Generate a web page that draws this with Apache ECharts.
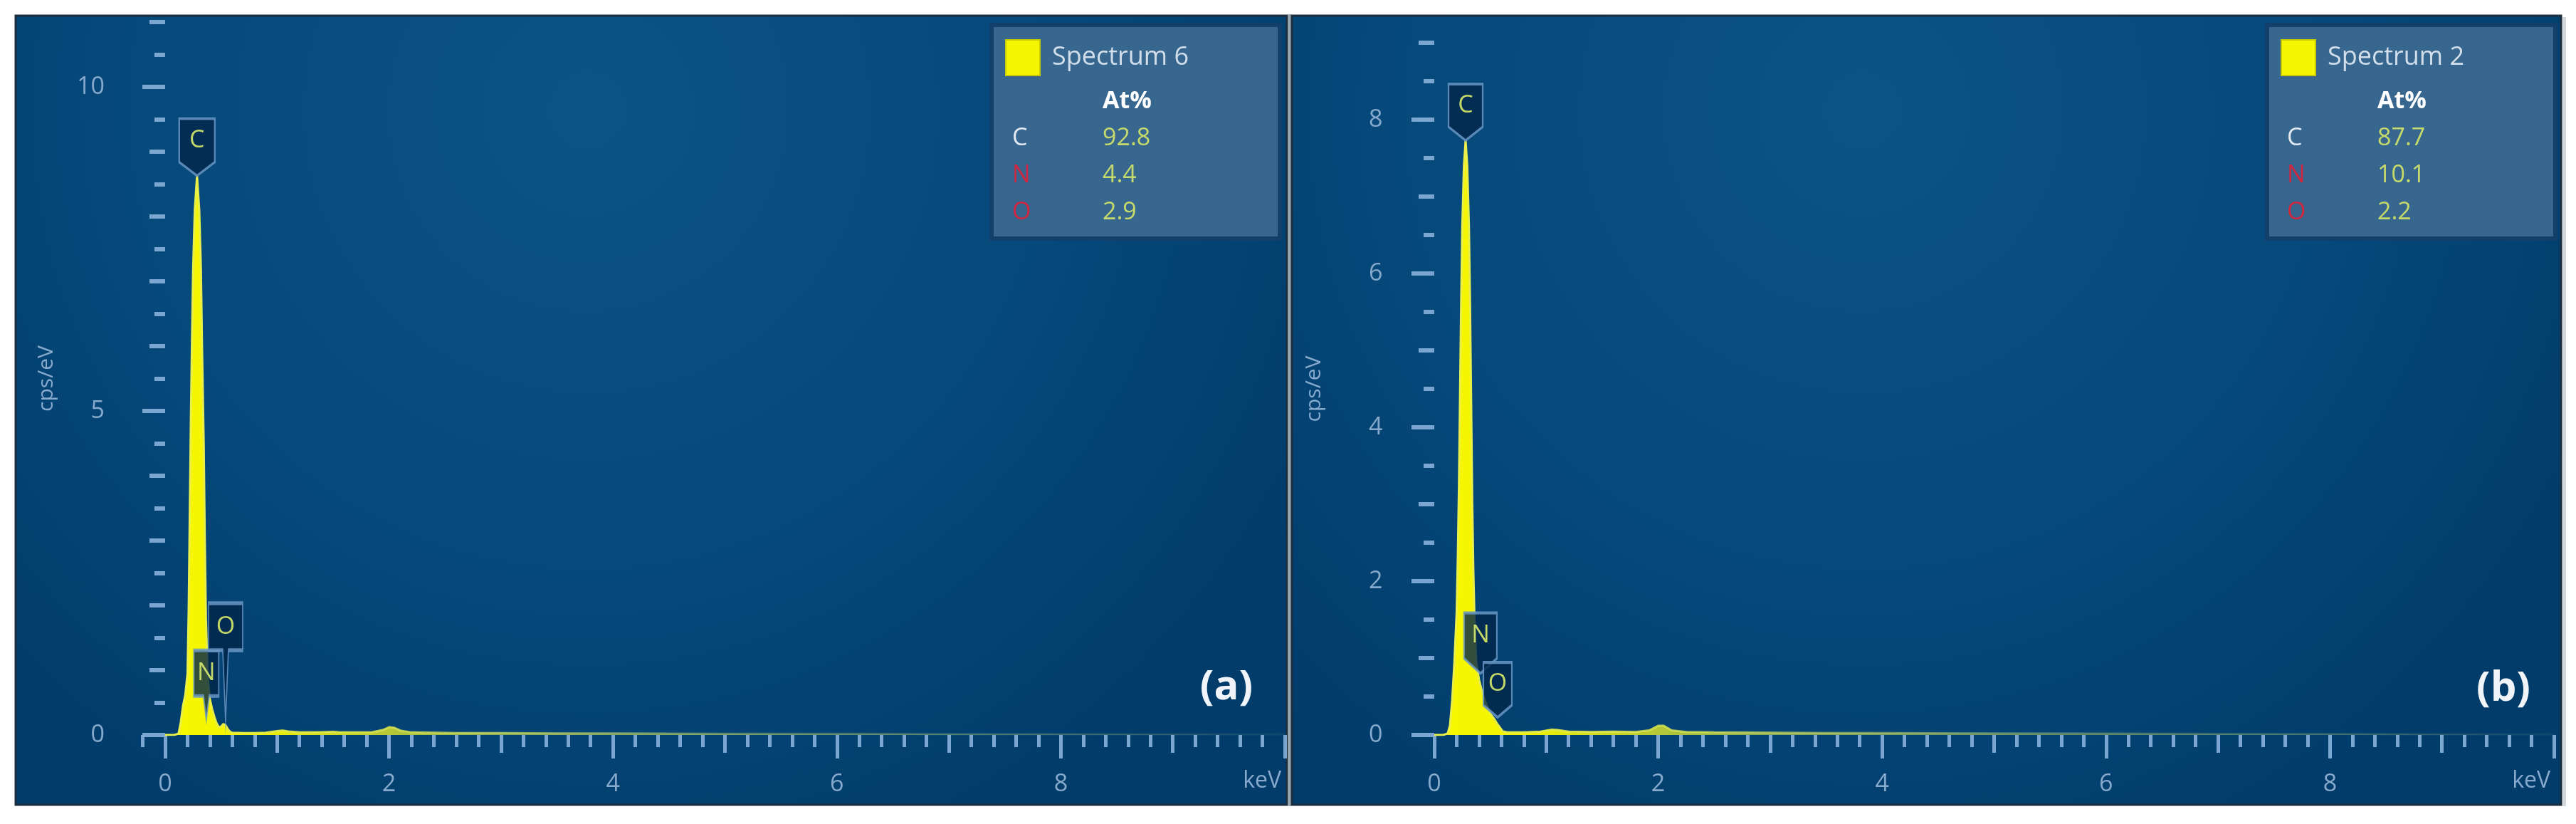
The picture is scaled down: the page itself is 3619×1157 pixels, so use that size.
<!DOCTYPE html>
<html><head><meta charset="utf-8">
<script src="https://cdn.jsdelivr.net/npm/echarts@6/dist/echarts.min.js"></script>
<style>html,body{margin:0;padding:0;background:#fff}#c{width:3619px;height:1157px}</style>
</head><body><div id="c"></div>
<script>
// ---------- data ----------
const seriesNameA = 'Spectrum 6';
const seriesNameB = 'Spectrum 2';
const spectrumA = [
  [0,0],[0.08,0],[0.12,0.02],[0.14,0.2],[0.16,0.45],[0.18,0.62],[0.20,0.95],[0.21,1.9],[0.22,3.4],[0.23,4.9],
  [0.24,6.1],[0.25,7.2],[0.265,8.1],[0.285,8.63],[0.305,8.1],[0.32,7.2],[0.33,6.0],[0.345,4.5],[0.355,3.0],
  [0.365,1.8],[0.38,0.9],[0.40,0.55],[0.42,0.4],[0.44,0.28],[0.46,0.18],[0.48,0.12],[0.50,0.13],[0.52,0.17],
  [0.54,0.15],[0.56,0.09],[0.58,0.05],[0.60,0.035],[0.7,0.03],[0.8,0.03],[0.9,0.035],[1.0,0.06],[1.05,0.07],
  [1.1,0.055],[1.2,0.04],[1.3,0.04],[1.4,0.045],[1.5,0.05],[1.55,0.045],[1.7,0.04],[1.85,0.045],[1.95,0.08],
  [2.0,0.12],[2.05,0.11],[2.1,0.07],[2.2,0.04],[2.4,0.035],[2.6,0.03],[3.0,0.03],[3.5,0.025],[4.0,0.025],
  [5.0,0.02],[6.0,0.02],[7.0,0.015],[8.0,0.015],[9.0,0.01],[10.0,0.01]
];
const spectrumB = [
  [0,0],[0.08,0],[0.12,0.02],[0.14,0.12],[0.16,0.45],[0.18,0.95],[0.20,1.6],[0.21,2.3],[0.22,3.2],[0.23,4.4],
  [0.24,5.6],[0.25,6.6],[0.265,7.4],[0.28,7.73],[0.295,7.4],[0.31,6.6],[0.32,5.6],[0.33,4.3],[0.34,3.0],
  [0.35,2.1],[0.36,1.5],[0.375,0.95],[0.40,0.72],[0.42,0.6],[0.44,0.5],[0.46,0.42],[0.48,0.35],[0.50,0.28],
  [0.52,0.24],[0.54,0.2],[0.56,0.15],[0.585,0.1],[0.61,0.05],[0.65,0.035],[0.8,0.035],[0.95,0.045],[1.05,0.07],
  [1.1,0.065],[1.2,0.045],[1.4,0.04],[1.6,0.045],[1.8,0.04],[1.92,0.06],[2.0,0.12],[2.05,0.12],[2.12,0.06],
  [2.25,0.04],[2.5,0.035],[3.0,0.03],[3.5,0.025],[4.0,0.025],[5.0,0.02],[6.0,0.02],[7.0,0.015],[8.0,0.015],
  [9.0,0.01],[10.0,0.01]
];
const elements = ['C', 'N', 'O'];
const atPercentA = [92.8, 4.4, 2.9];
const atPercentB = [87.7, 10.1, 2.2];
const peakKeVA = [0.285, 0.368, 0.54];
const peakCpsA = [8.63, 0.24, 0.22];
const peakKeVB = [0.28, 0.413, 0.566];
const peakCpsB = [7.73, 0.8, 0.23];
const panelLabels = ['(a)', '(b)'];
const xUnit = 'keV';
const yUnit = 'cps/eV';
// tick positions / tick labels
const xLabelTicks = [0, 2, 4, 6, 8];
const xEvenTicks = [0, 2, 4, 6, 8, 10];
const xOddTicks = [1, 3, 5, 7, 9];
const xMinorTicksB = [];
for (let i = 1; i < 50; i++) if (i % 5) xMinorTicksB.push(i / 5);
const xMinorTicksA = [-0.2].concat(xMinorTicksB);
const yLabelTicksA = [0, 5, 10];
const yMidTicksA = [1, 2, 3, 4, 6, 7, 8, 9, 11];
const yMinorTicksA = [0.5,1.5,2.5,3.5,4.5,5.5,6.5,7.5,8.5,9.5,10.5];
const yMaxA = 11;
const yLabelTicksB = [0, 2, 4, 6, 8];
const yMidTicksB = [1, 3, 5, 7, 9];
const yMinorTicksB = [0.5,1.5,2.5,3.5,4.5,5.5,6.5,7.5,8.5];
const yMaxB = 9;
const xMin = -0.2, xMax = 10;

// ---------- styles ----------
const FONT = '"Open Sans", "Noto Sans", sans-serif';
const TICK = 'rgba(130,172,214,0.95)';
const LBL = '#86a9cc';

function xAxes(grid, minor) {
  const base = {type: 'value', gridIndex: grid, min: xMin, max: xMax, position: 'bottom', offset: 5,
    axisLine: {show: false}, splitLine: {show: false}};
  return [
    Object.assign({}, base, {
      axisTick: {show: true, customValues: xEvenTicks, length: 33, lineStyle: {color: TICK, width: 5}},
      axisLabel: {show: true, customValues: xLabelTicks, margin: 47, color: LBL, fontSize: 34, fontFamily: FONT},
      name: xUnit, nameLocation: 'end', nameGap: -5,
      nameTextStyle: {align: 'right', verticalAlign: 'top', padding: [49, 0, 0, 0], color: LBL, fontSize: 32, fontFamily: FONT}
    }),
    Object.assign({}, base, {
      axisTick: {show: true, customValues: xOddTicks, length: 25, lineStyle: {color: TICK, width: 5}},
      axisLabel: {show: false}
    }),
    Object.assign({}, base, {
      axisTick: {show: true, customValues: minor, length: 17, lineStyle: {color: TICK, width: 5}},
      axisLabel: {show: false}
    })
  ];
}
function yAxes(grid, max, labels, mid, minor, offset, gap) {
  const base = {type: 'value', gridIndex: grid, min: 0, max: max, position: 'left', offset: offset,
    axisLine: {show: false}, splitLine: {show: false}};
  return [
    Object.assign({}, base, {
      axisTick: {show: true, customValues: labels, length: 32, lineStyle: {color: TICK, width: 6}},
      axisLabel: {show: true, customValues: labels, margin: 41, color: LBL, fontSize: 34, fontFamily: FONT},
      name: yUnit, nameLocation: 'middle', nameGap: gap, nameRotate: 90,
      nameTextStyle: {color: LBL, fontSize: 30, fontFamily: FONT}
    }),
    Object.assign({}, base, {
      axisTick: {show: true, customValues: mid, length: 22, lineStyle: {color: TICK, width: 6}},
      axisLabel: {show: false}
    }),
    Object.assign({}, base, {
      axisTick: {show: true, customValues: minor, length: 15, lineStyle: {color: TICK, width: 6}},
      axisLabel: {show: false}
    })
  ];
}

const lineGrad = {type: 'linear', x: 0, y: 0, x2: 1, y2: 0, colorStops: [
  {offset: 0, color: '#eef24a'}, {offset: 0.1, color: 'rgba(228,236,70,0.95)'},
  {offset: 0.3, color: 'rgba(212,228,95,0.7)'}, {offset: 0.55, color: 'rgba(185,212,120,0.3)'},
  {offset: 1, color: 'rgba(150,190,140,0.08)'}]};
const areaGrad = {type: 'linear', x: 0, y: 0, x2: 1, y2: 0, colorStops: [
  {offset: 0, color: '#f7f700'}, {offset: 0.08, color: '#f4f400'},
  {offset: 0.3, color: 'rgba(220,232,70,0.6)'}, {offset: 1, color: 'rgba(200,220,100,0.08)'}]};

// label box shapes [w, bodyH, totalH]
const boxA = [[50, 61, 80], [35, 64, 97], [48, 66, 165]];
const boxB = [[48, 60, 79], [46, 64, 85], [40, 60, 77]];
function boxPath(w, b, t) {
  if (t - b < 25) return 'path://M0,0L' + w + ',0L' + w + ',' + b + 'L' + (w / 2) + ',' + t + 'L0,' + b + 'Z';
  const c = w / 2;
  return 'path://M0,0L' + w + ',0L' + w + ',' + b + 'L' + (c + 4) + ',' + b + 'L' + c + ',' + t + 'L' + (c - 4) + ',' + b + 'L0,' + b + 'Z';
}
function markData(keV, cps, boxes) {
  return elements.map((el, i) => {
    const [w, b, t] = boxes[i];
    return {
      coord: [keV[i], cps[i]],
      symbol: boxPath(w, b, t), symbolSize: [w, t], symbolOffset: [0, '-50%'],
      itemStyle: {color: 'rgba(3,38,72,0.8)', borderColor: 'rgba(105,150,198,0.85)', borderWidth: 3},
      label: {show: true, formatter: el, position: 'inside', offset: [0, -(t - b) / 2],
        color: '#c4d86a', fontSize: 34, fontWeight: 'normal', fontFamily: FONT}
    };
  });
}
function tableText(vals) {
  const lines = ['{h|At%}'];
  elements.forEach((el, i) => lines.push('{' + (el === 'C' ? 'c' : 'r') + '|' + el + '}{v|' + vals[i].toFixed(1) + '}'));
  return lines.join('\n');
}
const richTable = {
  h: {fontSize: 34, fontWeight: 'bold', color: '#ffffff', lineHeight: 52, padding: [0, 0, 0, 127], fontFamily: FONT},
  c: {fontSize: 34, fontWeight: 'normal', color: '#e2e9f0', width: 127, lineHeight: 52, fontFamily: FONT},
  r: {fontSize: 34, fontWeight: 'normal', color: '#d0263f', width: 127, lineHeight: 52, fontFamily: FONT},
  v: {fontSize: 34, fontWeight: 'normal', color: '#c6da6c', lineHeight: 52, fontFamily: FONT}
};
function panelBg() {
  return {type: 'radial', x: 0.45, y: 0.12, r: 1.05, colorStops: [
    {offset: 0, color: '#0b5485'}, {offset: 0.55, color: '#06497b'}, {offset: 1, color: '#013c6b'}]};
}

const chart = echarts.init(document.getElementById('c'), null, {renderer: 'canvas'});
chart.setOption({
  animation: false,
  backgroundColor: '#ffffff',
  grid: [
    {left: 200.5, right: 1814, top: 31, bottom: 125},
    {left: 1983.5, right: 31, top: 60, bottom: 125}
  ],
  xAxis: xAxes(0, xMinorTicksA).concat(xAxes(1, xMinorTicksB)),
  yAxis: yAxes(0, yMaxA, yLabelTicksA, yMidTicksA, yMinorTicksA, 12.5, 108)
    .concat(yAxes(1, yMaxB, yLabelTicksB, yMidTicksB, yMinorTicksB, 0, 122)),
  legend: [
    {data: [{name: seriesNameA, icon: 'rect', itemStyle: {color: '#f5f500', borderColor: '#c9c900', borderWidth: 2}}],
     left: 1412, top: 55, padding: 0, itemWidth: 48, itemHeight: 50, selectedMode: false,
     textStyle: {color: '#d2deea', fontSize: 36, fontFamily: FONT, padding: [0, 0, 0, 12]}},
    {data: [{name: seriesNameB, icon: 'rect', itemStyle: {color: '#f5f500', borderColor: '#c9c900', borderWidth: 2}}],
     left: 3204, top: 55, padding: 0, itemWidth: 48, itemHeight: 50, selectedMode: false,
     textStyle: {color: '#d2deea', fontSize: 36, fontFamily: FONT, padding: [0, 0, 0, 12]}}
  ],
  title: [
    {left: 1422, top: 116, padding: 0, text: tableText(atPercentA), textStyle: {rich: richTable, fontSize: 34, fontWeight: 'normal', lineHeight: 52}},
    {left: 3213, top: 116, padding: 0, text: tableText(atPercentB), textStyle: {rich: richTable, fontSize: 34, fontWeight: 'normal', lineHeight: 52}}
  ],
  graphic: {elements: [
    {type: 'rect', z: -10, shape: {x: 22, y: 22, width: 1786, height: 1108}, style: {fill: panelBg(), stroke: '#1c2d3e', lineWidth: 3}},
    {type: 'rect', z: -10, shape: {x: 1810, y: 20, width: 4, height: 1112}, style: {fill: '#9ba7b3'}},
    {type: 'rect', z: -10, shape: {x: 1815, y: 22, width: 1783, height: 1108}, style: {fill: panelBg(), stroke: '#1c2d3e', lineWidth: 3}},
    {type: 'rect', z: -10, shape: {x: 3600, y: 24, width: 5, height: 1108}, style: {fill: '#d3d8dd'}},
    {type: 'rect', z: 1, shape: {x: 1393, y: 35, width: 405, height: 300}, style: {fill: '#37678f', stroke: '#12406a', lineWidth: 6}},
    {type: 'rect', z: 1, shape: {x: 3185, y: 35, width: 405, height: 300}, style: {fill: '#37678f', stroke: '#12406a', lineWidth: 6}},
    {type: 'text', z: 10, x: 1723, y: 965, style: {text: panelLabels[0], fill: '#f1f5f9', font: 'bold 58px ' + FONT, align: 'center', verticalAlign: 'middle'}},
    {type: 'text', z: 10, x: 3517, y: 967, style: {text: panelLabels[1], fill: '#f1f5f9', font: 'bold 58px ' + FONT, align: 'center', verticalAlign: 'middle'}}
  ]},
  series: [
    {type: 'line', name: seriesNameA, xAxisIndex: 0, yAxisIndex: 0, data: spectrumA, showSymbol: false, symbol: 'none',
     lineStyle: {width: 3, color: lineGrad}, areaStyle: {color: areaGrad, opacity: 1}, itemStyle: {color: '#f5f500'}, z: 3,
     markPoint: {silent: true, data: markData(peakKeVA, peakCpsA, boxA)}},
    {type: 'line', name: seriesNameB, xAxisIndex: 3, yAxisIndex: 3, data: spectrumB, showSymbol: false, symbol: 'none',
     lineStyle: {width: 3, color: lineGrad}, areaStyle: {color: areaGrad, opacity: 1}, itemStyle: {color: '#f5f500'}, z: 3,
     markPoint: {silent: true, data: markData(peakKeVB, peakCpsB, boxB)}}
  ]
});
</script></body></html>
